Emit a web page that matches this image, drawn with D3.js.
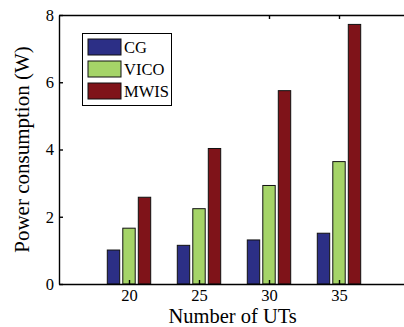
<!DOCTYPE html>
<html>
<body style="margin:0">
    <style>
        svg, svg text {
            font-family: "Liberation Serif", "Times New Roman", Tinos, "DejaVu Serif", serif !important;
        }
        text {
            fill: #000;
        }
    </style>
    <div class="container"></div>

    <script src="https://d3js.org/d3.v7.min.js"></script>

    <script>

var categories = [20, 25, 30, 35];
var seriesNames = ["CG", "VICO", "MWIS"];
var cgValues = [1.01, 1.15, 1.31, 1.51];
var vicoValues = [1.66, 2.24, 2.93, 3.64];
var mwisValues = [2.58, 4.03, 5.75, 7.72];
var yTicks = [0, 2, 4, 6, 8];
var colors = ["#2c2f86", "#a5d468", "#7f1319"];

var width = 404,
    height = 327;

var margin = { left: 59, top: 15, bottom: 43 };

var svg = d3.select(".container")
    .append("svg")
    .attr("width", width)
    .attr("height", height)
    .attr("font-family", "Liberation Serif");

var x = d3.scaleLinear()
    .domain([15, 40])
    .range([margin.left, margin.left + 350]);

var y = d3.scaleLinear()
    .domain([0, 8])
    .range([height - margin.bottom, margin.top]);

var inner = d3.scaleBand()
    .domain(seriesNames)
    .range([-21.7, 21.7])
    .paddingInner(0.2);

var seriesValues = [cgValues, vicoValues, mwisValues];
var rows = [];
categories.forEach(function(c, i) {
  seriesNames.forEach(function(s, j) {
    rows.push({ cat: c, series: s, value: seriesValues[j][i], color: colors[j] });
  });
});

// bars
svg.append("g").selectAll("rect")
    .data(rows)
  .enter().append("rect")
    .attr("x", function(d) { return x(d.cat) + inner(d.series); })
    .attr("y", function(d) { return y(d.value); })
    .attr("width", inner.bandwidth())
    .attr("height", function(d) { return y(0) - y(d.value); })
    .style("fill", function(d) { return d.color; })
    .style("stroke", "#111")
    .style("stroke-width", 1);

// axes
var xAxis = svg.append("g")
    .attr("transform", "translate(0," + y(0) + ")")
    .call(d3.axisBottom(x).tickValues(categories).tickSizeInner(-4).tickSizeOuter(0).tickPadding(5));

var yAxis = svg.append("g")
    .attr("transform", "translate(" + margin.left + ",0)")
    .call(d3.axisLeft(y).tickValues(yTicks).tickSizeInner(-4).tickSizeOuter(0).tickPadding(5));

var topAxis = svg.append("g")
    .attr("transform", "translate(0," + margin.top + ")")
    .call(d3.axisTop(x).tickValues(categories.slice(2)).tickSizeInner(-4).tickSizeOuter(0).tickFormat(""));

[xAxis, yAxis, topAxis].forEach(function(a) {
  a.attr("font-family", null).attr("font-size", null);
  a.selectAll("path, line").style("stroke", "#000").style("stroke-width", 1.4);
  a.selectAll("text")
      .style("font-size", "16.5px")
      .style("fill", "#000");
});

// axis titles
svg.append("text")
    .attr("x", x(27.4))
    .attr("y", 323)
    .attr("text-anchor", "middle")
    .style("font-size", "20.5px")
    .text("Number of UTs");

svg.append("text")
    .attr("transform", "translate(29," + ((y(0) + y(8)) / 2) + ") rotate(-90)")
    .attr("text-anchor", "middle")
    .style("font-size", "21px")
    .text("Power consumption (W)");

// legend
var legend = svg.append("g");
legend.append("rect")
    .attr("x", 82.5)
    .attr("y", 33.5)
    .attr("width", 89)
    .attr("height", 72)
    .style("fill", "#fff")
    .style("stroke", "#000")
    .style("stroke-width", 1);

var item = legend.selectAll(".item")
    .data(seriesNames)
  .enter().append("g")
    .attr("class", "item")
    .attr("transform", function(d, i) { return "translate(88," + (39 + i * 22) + ")"; });

item.append("rect")
    .attr("width", 33)
    .attr("height", 16)
    .style("fill", function(d, i) { return colors[i]; })
    .style("stroke", "#111")
    .style("stroke-width", 1);

item.append("text")
    .attr("x", 36)
    .attr("y", 14)
    .style("font-size", "16.5px")
    .text(function(d) { return d; });

    </script>
</body>
</html>
